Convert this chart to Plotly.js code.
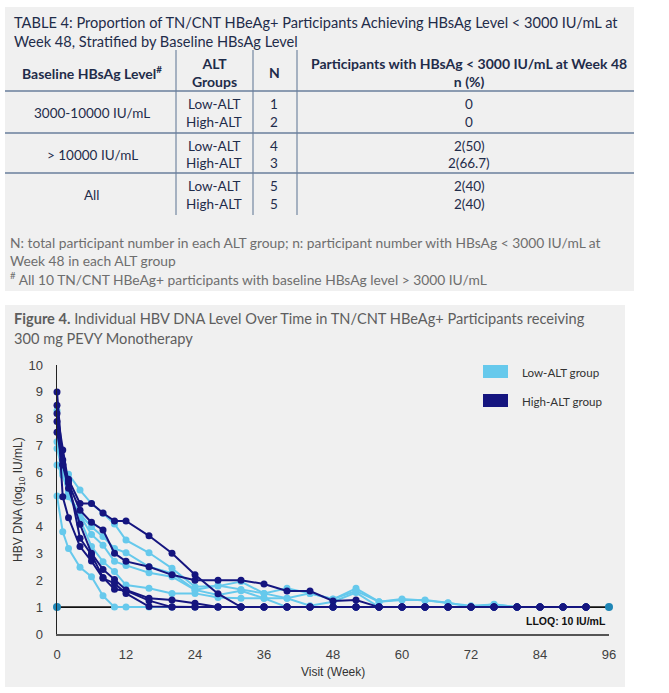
<!DOCTYPE html>
<html><head><meta charset="utf-8">
<script src="https://cdn.plot.ly/plotly-3.0.1.min.js"></script>
<style>html,body{margin:0;padding:0;background:#fff;}#chart{width:669px;height:693px;}</style>
</head><body><div id="chart"></div>
<script>
// ---------- DATA ----------
const weeks = [0,1,2,4,6,8,10,12,16,20,24,28,32,36,40,44,48,52,56,60,64,68,72,76,80,84,88,92];
const xTicks = [0,12,24,36,48,60,72,84,96];

const lowALT1 = [8.3,6.2,5.94,5.35,4.85,4.49,4.09,3.49,3.02,2.44,1.76,1.78,1.95,1.51,1.70,1.51,1.29,1.70,1.2,1.26,1.26,1.16,1.0,1.11,1.0,1.0,1.0,1.0];
const lowALT2 = [6.28,5.9,5.2,4.45,3.99,3.62,3.18,3.02,2.5,2.26,1.64,1.45,1.61,1.33,1.33,1.05,1.2,1.54,1.0,1.0,1.0,1.0,1.0,1.0,1.0,1.0,1.0,1.0];
const lowALT3 = [5.13,3.8,3.18,2.48,2.13,1.42,1.0,1.0,1.0,1.0,1.0,1.0,1.0,1.0,1.0,1.0,1.0,1.0,1.0,1.0,1.0,1.0,1.0,1.0,1.0,1.0,1.0,1.0];
const lowALT4 = [7.15,6.0,5.3,4.3,3.25,2.69,2.32,1.82,1.7,1.51,1.51,1.36,1.33,1.33,1.0,1.0,1.0,1.0,1.0,1.0,1.0,1.0,1.0,1.0,1.0,1.0,1.0,1.0];
const lowALT5 = [6.9,6.0,5.1,4.4,3.7,3.3,2.7,2.55,2.28,2.13,1.64,1.8,1.65,1.51,1.33,1.51,1.3,1.6,1.2,1.3,1.25,1.15,1.05,1.1,1.0,1.0,1.0,1.0];

const highALT1 = [7.5,6.3,5.75,4.85,4.85,4.5,4.2,4.2,3.65,3.0,2.2,1.5,1.0,1.0,1.0,1.0,1.0,1.0,1.0,1.0,1.0,1.0,1.0,1.0,1.0,1.0,1.0,1.0];
const highALT2 = [8.2,6.84,5.6,4.6,4.15,3.87,3.0,2.7,2.5,2.2,2.0,2.0,2.0,1.86,1.6,1.6,1.23,1.26,1.0,1.0,1.0,1.0,1.0,1.0,1.0,1.0,1.0,1.0];
const highALT3 = [9.0,6.28,5.42,4.08,3.0,2.4,2.03,1.64,1.33,1.26,1.14,1.0,1.0,1.0,1.0,1.0,1.0,1.0,1.0,1.0,1.0,1.0,1.0,1.0,1.0,1.0,1.0,1.0];
const highALT4 = [8.5,5.1,4.32,3.25,2.71,2.07,1.88,1.51,1.02,1.0,1.0,1.0,1.0,1.0,1.0,1.0,1.0,1.0,1.0,1.0,1.0,1.0,1.0,1.0,1.0,1.0,1.0,1.0];
const highALT5 = [7.9,6.47,5.7,3.56,2.95,2.1,1.66,1.61,1.24,1.0,1.0,1.0,1.0,1.0,1.0,1.0,1.0,1.0,1.0,1.0,1.0,1.0,1.0,1.0,1.0,1.0,1.0,1.0];

const lloqWeeks = [0,96];
const lloqValues = [1,1];

const groupNames = ["Low-ALT group","High-ALT group"];
const baselineLevels = ["3000-10000 IU/mL","> 10000 IU/mL","All"];
const altGroups = ["Low-ALT","High-ALT"];
const nValues = [[1,2],[4,3],[5,5]];
const responders = [["0","0"],["2(50)","2(66.7)"],["2(40)","2(40)"]];
const tableTitle = ["TABLE 4: Proportion of TN/CNT HBeAg+ Participants Achieving HBsAg Level < 3000 IU/mL at","Week 48, Stratified by Baseline HBsAg Level"];
const headers = ["Baseline HBsAg Level<sup>#</sup>","ALT<br>Groups","N","Participants with HBsAg < 3000 IU/mL at Week 48<br>n (%)"];
const footnotes = ["N: total participant number in each ALT group; n: participant number with HBsAg < 3000 IU/mL at","Week 48 in each ALT group","<sup>#</sup> All 10 TN/CNT HBeAg+ participants with baseline HBsAg level > 3000 IU/mL"];
const figTitle = ["<b>Figure 4.</b> Individual HBV DNA Level Over Time in TN/CNT HBeAg+ Participants receiving","300 mg PEVY Monotherapy"];

// ---------- LAYOUT HELPERS ----------
const W = 669, H = 693;
const px = x => x / W;
const py = y => 1 - y / H;
const LIGHT = '#66C9EC', DARK = '#15157F', TEAL = '#1F86B6';
const TFONT = "Lato, sans-serif";
const CFONT = "Liberation Sans, Arial, sans-serif";
const NAVY = '#1F2C4A';

function ann(x, y, text, opts) {
  return Object.assign({xref:'paper', yref:'paper', x:px(x), y:py(y), text:text, showarrow:false,
    xanchor:'center', yanchor:'middle', font:{family:TFONT, size:13.5, color:NAVY}}, opts || {});
}

const traces = [];
traces.push({x:lloqWeeks, y:lloqValues, mode:'lines+markers', line:{color:'#111', width:1.8},
  marker:{color:TEAL, size:8}, cliponaxis:false, showlegend:false, hoverinfo:'skip'});
[lowALT1,lowALT2,lowALT3,lowALT4,lowALT5].forEach(s => traces.push({x:weeks, y:s, mode:'lines+markers',
  line:{color:LIGHT, width:2}, marker:{color:LIGHT, size:7}, cliponaxis:false, showlegend:false, name:groupNames[0]}));
[highALT1,highALT2,highALT3,highALT4,highALT5].forEach(s => traces.push({x:weeks, y:s, mode:'lines+markers',
  line:{color:DARK, width:2}, marker:{color:DARK, size:7}, cliponaxis:false, showlegend:false, name:groupNames[1]}));

const shapes = [
  {type:'rect', xref:'paper', yref:'paper', x0:px(5), x1:px(634), y0:py(7), y1:py(291), fillcolor:'#F0F0F0', line:{width:0}, layer:'below'},
  {type:'rect', xref:'paper', yref:'paper', x0:px(5), x1:px(625), y0:py(305), y1:py(687), fillcolor:'#F0F0F0', line:{width:0}, layer:'below'},
];
[176,253,297].forEach(x => shapes.push({type:'line', xref:'paper', yref:'paper', x0:px(x), x1:px(x), y0:py(50), y1:py(215), line:{color:'#5B7291', width:1}}));
[91,133,173].forEach(y => shapes.push({type:'line', xref:'paper', yref:'paper', x0:px(5), x1:px(634), y0:py(y), y1:py(y), line:{color:'#6A7F9C', width:1.3}}));
shapes.push({type:'rect', xref:'paper', yref:'paper', x0:px(483), x1:px(508), y0:py(365), y1:py(378), fillcolor:LIGHT, line:{width:0}});
shapes.push({type:'rect', xref:'paper', yref:'paper', x0:px(483), x1:px(508), y0:py(394), y1:py(407), fillcolor:DARK, line:{width:0}});

const annotations = [];
annotations.push(ann(12, 22, tableTitle[0], {xanchor:'left', font:{family:TFONT, size:14.6, color:NAVY}}));
annotations.push(ann(12, 42, tableTitle[1], {xanchor:'left', font:{family:TFONT, size:14.6, color:NAVY}}));
const hx = [92, 214, 274, 469];
headers.forEach((h, i) => annotations.push(ann(hx[i], 72, '<b>' + h + '</b>', {font:{family:TFONT, size:14, color:NAVY}})));
const rowY = [113,155,195];
const subY = [[104,122],[146,163],[186,204]];
baselineLevels.forEach((b, r) => {
  annotations.push(ann(92, rowY[r], b));
  altGroups.forEach((g, k) => {
    annotations.push(ann(214, subY[r][k], g));
    annotations.push(ann(274, subY[r][k], String(nValues[r][k])));
    annotations.push(ann(469, subY[r][k], responders[r][k]));
  });
});
const fy = [242,260,278];
footnotes.forEach((f, i) => annotations.push(ann(8, fy[i], f, {xanchor:'left', font:{family:TFONT, size:13.8, color:'#6E6E6E'}})));
annotations.push(ann(12, 318, figTitle[0], {xanchor:'left', font:{family:TFONT, size:14.6, color:'#5E5E5E'}}));
annotations.push(ann(12, 338, figTitle[1], {xanchor:'left', font:{family:TFONT, size:14.6, color:'#5E5E5E'}}));
annotations.push(ann(19, 500, 'HBV DNA (log<sub>10</sub> IU/mL)', {textangle:-90, font:{family:CFONT, size:12, color:'#333'}}));
annotations.push(ann(333, 672, 'Visit (Week)', {font:{family:CFONT, size:12, color:'#333'}}));
annotations.push(ann(520, 372, groupNames[0], {xanchor:'left', font:{family:TFONT, size:11.6, color:'#333'}}));
annotations.push(ann(520, 401, groupNames[1], {xanchor:'left', font:{family:TFONT, size:11.6, color:'#333'}}));
annotations.push(ann(608, 621, '<b>LLOQ: 10 IU/mL</b>', {xanchor:'right', font:{family:CFONT, size:10.5, color:'#111'}}));

const layout = {
  width:W, height:H, margin:{l:0, r:0, t:0, b:0},
  paper_bgcolor:'#FFFFFF', plot_bgcolor:'rgba(0,0,0,0)',
  showlegend:false,
  xaxis:{domain:[px(57), px(609)], range:[0,96], tickvals:xTicks, showline:true, linecolor:'#555', linewidth:1.5,
    showgrid:false, zeroline:false, ticks:'outside', ticklen:8, tickcolor:'rgba(0,0,0,0)',
    tickfont:{family:CFONT, size:13, color:'#404040'}, fixedrange:true},
  yaxis:{domain:[py(634), py(365)], range:[0,10], dtick:1, showline:true, linecolor:'#222', linewidth:1.5,
    showgrid:false, zeroline:false, ticks:'outside', ticklen:10, tickcolor:'rgba(0,0,0,0)',
    tickfont:{family:CFONT, size:13, color:'#404040'}, fixedrange:true},
  shapes:shapes, annotations:annotations
};
Plotly.newPlot('chart', traces, layout, {displayModeBar:false, staticPlot:true});
</script></body></html>
